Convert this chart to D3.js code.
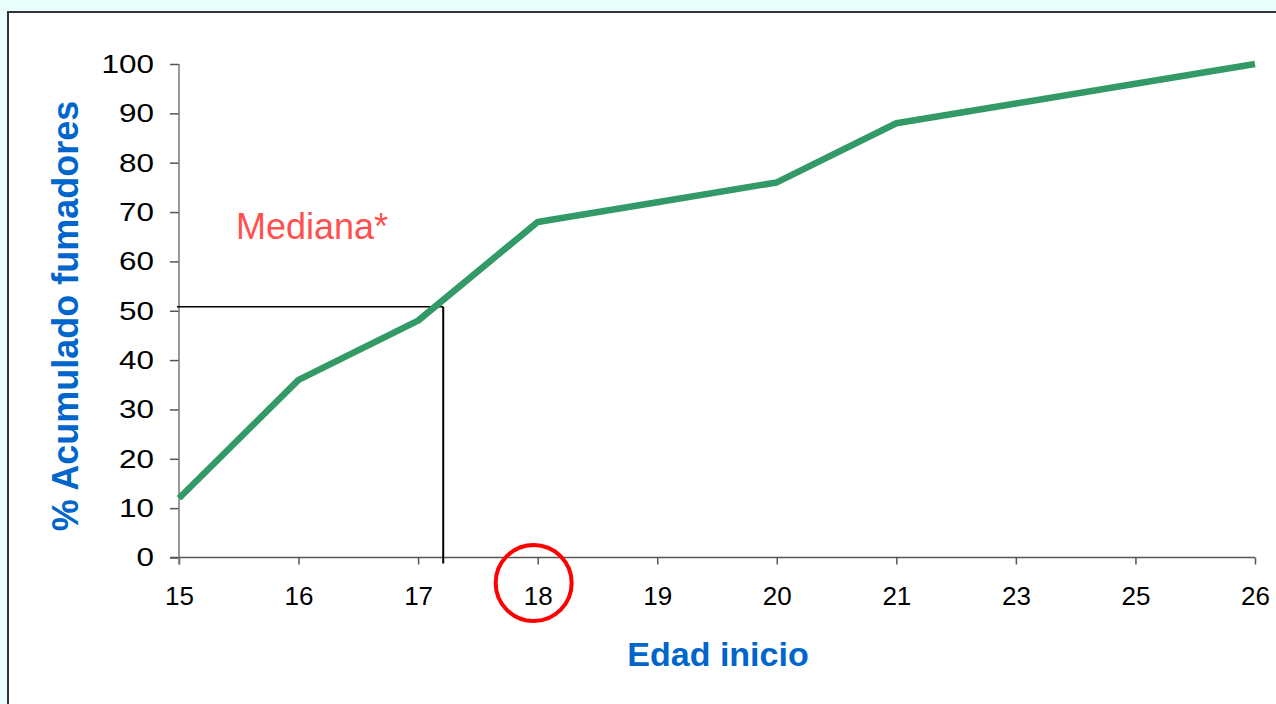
<!DOCTYPE html>
<html>
<head>
<meta charset="utf-8">
<script src="https://cdn.jsdelivr.net/npm/d3@7"></script>
<style>
  body { margin: 0; background: #e8fffd; }
  svg { display: block; }
  text { font-family: "Liberation Sans", Arial, sans-serif; }
</style>
</head>
<body>
<div id="chart"></div>
<script>
// data
var edades = ["15", "16", "17", "18", "19", "20", "21", "23", "25", "26"];
var acumulado = [12, 36, 48, 68, 72, 76, 88, 92, 96, 100];
var yTicks = [0, 10, 20, 30, 40, 50, 60, 70, 80, 90, 100];
var medianaPct = 50.8;
var medianaEdad = ["17", 0.21]; // category + fraction of step towards next one
var edadMarcada = "18";

var W = 1276, H = 704;

var svg = d3.select("#chart")
  .append("svg")
    .attr("width", W)
    .attr("height", H);

// white panel with dark border
svg.append("rect")
  .attr("x", 8).attr("y", 12)
  .attr("width", W + 20).attr("height", H + 20)
  .attr("fill", "#fff")
  .attr("stroke", "#333")
  .attr("stroke-width", 2);

var x = d3.scalePoint()
  .domain(edades)
  .range([179, 1255]);

var y = d3.scaleLinear()
  .domain([0, 100])
  .range([557.5, 64]);

var data = edades.map(function(e, i) { return {edad: e, valor: acumulado[i]}; });

// X axis
var gx = svg.append("g")
  .attr("transform", "translate(0," + y(0) + ")")
  .call(d3.axisBottom(x).tickSize(7).tickSizeOuter(0).tickPadding(22));
gx.select(".domain").remove();
gx.append("line")
  .attr("x1", x(edades[0]) - 9).attr("x2", x(edades[edades.length - 1]))
  .attr("stroke", "#555").attr("stroke-width", 1.5);
gx.selectAll(".tick line").attr("stroke", "#555").attr("stroke-width", 1.5);
gx.selectAll(".tick text")
  .attr("fill", "#000")
  .style("font-size", "26px")
  .attr("dy", "0.71em");

// Y axis
var gy = svg.append("g")
  .attr("transform", "translate(" + x(edades[0]) + ",0)")
  .call(d3.axisLeft(y).tickValues(yTicks).tickSize(9).tickSizeOuter(0));
gy.select(".domain").remove();
gy.append("line")
  .attr("y1", y(100)).attr("y2", y(0) + 7)
  .attr("stroke", "#777").attr("stroke-width", 1.5);
gy.selectAll(".tick line").attr("stroke", "#555").attr("stroke-width", 1.5);
gy.selectAll(".tick text")
  .attr("fill", "#000")
  .style("font-size", "26px")
  .attr("x", 0)
  .attr("transform", "translate(-25,0) scale(1.21,1)");

// median guide lines
var mx = x(medianaEdad[0]) + medianaEdad[1] * x.step();
svg.append("line")
  .attr("x1", x(edades[0]) - 2).attr("x2", mx)
  .attr("y1", y(medianaPct)).attr("y2", y(medianaPct))
  .attr("stroke", "#000").attr("stroke-width", 1.5);
svg.append("line")
  .attr("x1", mx).attr("x2", mx)
  .attr("y1", y(medianaPct)).attr("y2", y(0) + 6)
  .attr("stroke", "#000").attr("stroke-width", 2);

// cumulative line
var line = d3.line()
  .x(function(d) { return x(d.edad); })
  .y(function(d) { return y(d.valor); });
svg.append("path")
  .datum(data)
  .attr("d", line)
  .attr("fill", "none")
  .attr("stroke", "#339966")
  .attr("stroke-width", 6.5)
  .attr("stroke-linejoin", "round");

// red circle around the median age
svg.append("circle")
  .attr("cx", x(edadMarcada) - 4)
  .attr("cy", y(0) + 25.5)
  .attr("r", 38)
  .attr("fill", "none")
  .attr("stroke", "#ff0000")
  .attr("stroke-width", 4);

// labels
svg.append("text")
  .attr("x", 236).attr("y", 239)
  .attr("fill", "#ff5050")
  .style("font-size", "36px")
  .text("Mediana*");

svg.append("text")
  .attr("x", 718).attr("y", 666)
  .attr("text-anchor", "middle")
  .attr("fill", "#0066cc")
  .style("font-size", "34px")
  .style("font-weight", "bold")
  .text("Edad inicio");

svg.append("text")
  .attr("transform", "translate(78,316) rotate(-90)")
  .attr("text-anchor", "middle")
  .attr("fill", "#0066cc")
  .style("font-size", "36px")
  .style("font-weight", "bold")
  .text("% Acumulado fumadores");
</script>
</body>
</html>
